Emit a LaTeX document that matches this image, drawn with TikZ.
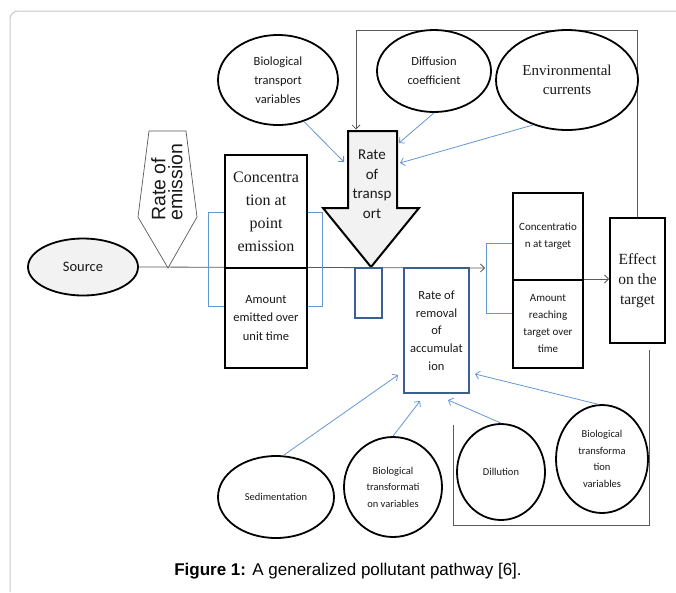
\documentclass[tikz,border=0pt]{standalone}
\usepackage{fontspec}
\setmainfont{Liberation Serif}
\newfontfamily\calfont{Carlito}
\newfontfamily\arifont{Liberation Sans}
\usetikzlibrary{shapes.geometric,arrows.meta}
\definecolor{framegray}{RGB}{200,200,200}
\definecolor{linegray}{RGB}{90,90,90}
\definecolor{lblue}{RGB}{100,150,210}
\definecolor{dblue}{RGB}{60,95,145}
\definecolor{fillgray}{RGB}{242,242,242}
\definecolor{txt}{RGB}{25,25,25}
\begin{document}
\begin{tikzpicture}[x=1pt,y=-1pt,
  ell/.style={draw=black, line width=1.8pt, fill=white, ellipse, inner sep=0pt, align=center, text=txt},
  blk/.style={draw=black, line width=2pt, fill=white, rectangle, inner sep=0pt, align=center, text=txt},
  bbox/.style={draw=dblue, line width=1.8pt, fill=white, rectangle, inner sep=0pt, align=center, text=txt},
  gline/.style={draw=linegray, line width=0.8pt},
  garrow/.style={gline, -{Straight Barb[length=4pt,width=8pt]}},
  barrow/.style={draw=lblue, line width=0.8pt, -{Straight Barb[length=4pt,width=8pt]}},
  brk/.style={draw=lblue, line width=0.8pt}
]
\useasboundingbox (0,0) rectangle (676,592);
% outer frame
\draw[framegray, line width=1pt, rounded corners=8pt] (10,592) -- (10,11) -- (676,11);

% source and main line
\node[ell, fill=fillgray, minimum width=110pt, minimum height=57pt, font=\calfont\fontsize{14.5}{16}\selectfont] (src) at (83,267) {Source};
\coordinate (mainend) at (485,268);
\draw[garrow] (src.east) -- (mainend);

% rate of emission pentagon
\draw[linegray, line width=0.7pt, fill=white] (149,131) -- (186,131) -- (197,217) -- (168,268) -- (138,217) -- cycle;
\node[rotate=90, anchor=west, inner sep=0pt, align=left, text=txt, font=\arifont\fontsize{19.5}{17}\selectfont] (roe) at (167,221) {Rate of\\emission};

% brackets
\draw[brk] (225,212) -- (208,212) -- (208,306) -- (225,306);
\draw[brk] (307,212) -- (322,212) -- (322,306) -- (307,306);
\draw[brk] (513,243) -- (486,243) -- (486,313) -- (513,313);

% concentration at point emission
\node[blk, minimum width=82pt, minimum height=113pt, font=\fontsize{16}{23}\selectfont] (cpTop) at (266,211.5) {Concentra\\tion at\\point\\emission};
\node[blk, minimum width=82pt, minimum height=100pt, font=\calfont\fontsize{12.5}{18.5}\selectfont] (cpBot) at (266,318) {Amount\\emitted over\\unit time};

% rate of transport arrow
\draw[line width=2pt, fill=fillgray, line join=miter] (348,131) -- (397,131) -- (397,208) -- (419,208) -- (371,267) -- (323,208) -- (348,208) -- cycle;
\node[inner sep=0pt, align=center, text=txt, font=\calfont\fontsize{15}{19.5}\selectfont] (rt) at (372,184) {Rate\\of\\transp\\ort};

% small rect and removal box
\node[bbox, minimum width=27pt, minimum height=50pt] (sm) at (368.5,293) {};
\node[bbox, minimum width=65pt, minimum height=125pt, font=\calfont\fontsize{12.5}{17.7}\selectfont] (rem) at (436.5,330.5) {Rate of\\removal\\of\\accumulat\\ion};

% target boxes
\node[blk, minimum width=70pt, minimum height=87pt, font=\calfont\fontsize{11}{17}\selectfont] (tgtTop) at (548,236.5) {Concentratio\\n at target};
\node[blk, minimum width=70pt, minimum height=88pt, font=\calfont\fontsize{11}{17}\selectfont] (tgtBot) at (548,324) {Amount\\reaching\\target over\\time};

% effect
\node[blk, minimum width=55pt, minimum height=125pt, font=\fontsize{15.5}{20}\selectfont] (eff) at (637.5,280.5) {Effect\\on the\\target};
\draw[garrow] (tgtBot.north east) -- (eff.west |- tgtBot.north east);

% feedback loop
\coordinate (shafttop) at (356,129.5);
\draw[garrow] (eff.north) -- (637.5,30) -- (356,30) -- (shafttop);
\coordinate (loopA) at (649,350);
\draw[gline] (loopA) -- (649,525) -- (453,525) -- (453,425);

% top ellipses
\node[ell, minimum width=120pt, minimum height=90pt, font=\calfont\fontsize{12.5}{19}\selectfont] (btv) at (278,80) {Biological\\transport\\variables};
\node[ell, minimum width=114pt, minimum height=82pt, font=\calfont\fontsize{12.5}{19}\selectfont] (diff) at (434,71) {Diffusion\\coefficient};
\node[ell, minimum width=142pt, minimum height=100pt, font=\fontsize{15}{19}\selectfont] (env) at (567,80) {Environmental\\currents};

% bottom ellipses
\node[ell, minimum width=116pt, minimum height=82pt, font=\calfont\fontsize{10.5}{16.5}\selectfont] (sed) at (276,497) {Sedimentation};
\node[ell, minimum width=98pt, minimum height=100pt, font=\calfont\fontsize{10.5}{16.5}\selectfont] (btf) at (393,487) {Biological\\transformati\\on variables};
\node[ell, minimum width=88pt, minimum height=96pt, font=\calfont\fontsize{10.5}{16.5}\selectfont] (dil) at (501,472) {Dillution};
\node[ell, minimum width=92pt, minimum height=108pt, font=\calfont\fontsize{10.5}{16.7}\selectfont] (btf2) at (602,459) {Biological\\transforma\\tion\\variables};

% blue arrows
\coordinate (e1) at (344,162);
\coordinate (e2) at (399,143);
\coordinate (e3) at (400,163);
\coordinate (e4) at (398,375);
\coordinate (e5) at (420,401);
\coordinate (e6) at (448,400);
\coordinate (e7) at (475,374);
\draw[barrow] (btv.-58) -- (e1);
\draw[barrow] (diff.south) -- (e2);
\draw[barrow] (env.-127) -- (e3);
\draw[barrow] (sed.80) -- (e4);
\draw[barrow] (btf.north) -- (e5);
\draw[barrow] (dil.north) -- (e6);
\draw[barrow] (btf2.94) -- (e7);

% caption
\node[anchor=base, inner sep=0pt, font=\arifont\fontsize{17}{20}\selectfont] (cap) at (348,575) {\textbf{Figure 1:} A generalized pollutant pathway [6].};
\end{tikzpicture}
\end{document}
